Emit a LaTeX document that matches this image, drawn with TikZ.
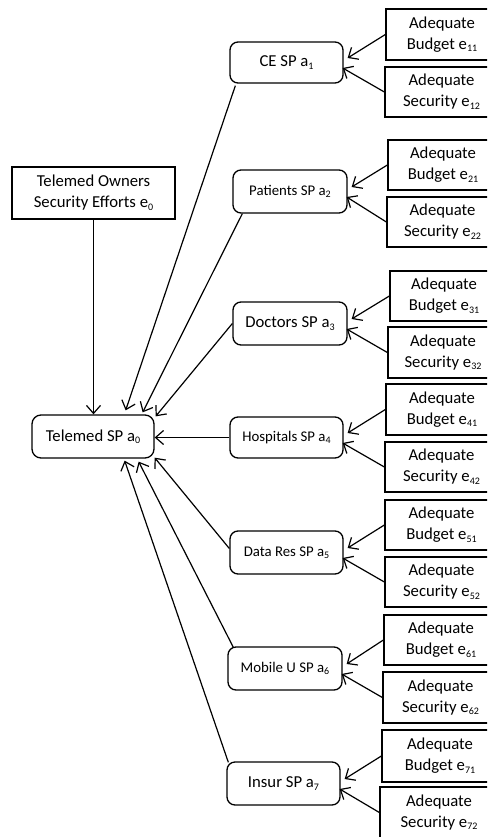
\documentclass[tikz,border=0pt]{standalone}
\usepackage{fontspec}
\setmainfont{Carlito}
\usetikzlibrary{arrows.meta,calc}

% small lowered index digits
\newcommand\sbs[1]{\raisebox{-0.3ex}{\fontsize{10}{10}\selectfont #1}}

\tikzset{
  base/.style={draw, line width=1.3pt, align=center, inner sep=0pt,
               font=\fontsize{16.7}{21}\selectfont},
  sqbox/.style={base},
  rbox/.style={base, rounded corners=8pt},
  small/.style={font=\fontsize{14.8}{18}\selectfont},
  arr/.style={line width=1.2pt, -{Straight Barb[length=8pt,width=14pt]}},
}

% effort box: name, left x, top y, bottom y, text (right edge runs off the page)
\newcommand\effbox[5]{%
  \node[sqbox, minimum width={(498-#2)*1pt}, minimum height={(#4-#3)*1pt}]
    (#1) at ({(#2+498)/2},{(#3+#4)/2}) {#5};}

\begin{document}
\begin{tikzpicture}[x=1pt, y=-1pt]
  \useasboundingbox (0,0) rectangle (487,837);
  \clip (0,0) rectangle (487,837);

  % owners and the central system
  \node[sqbox, minimum width=163pt, minimum height=52pt] (own) at (93.5,193)
    {Telemed Owners\\Security Efforts e\sbs{0}};
  \node[rbox, rounded corners=9pt, minimum width=122pt, minimum height=43pt] (a0) at (93,436.5)
    {Telemed SP a\sbs{0}};

  % stakeholder systems
  \node[rbox, minimum width=113pt, minimum height=41pt] (a1) at (286.5,62.5) {CE SP a\sbs{1}};
  \node[rbox, small, minimum width=114pt, minimum height=43pt] (a2) at (290,191.5) {Patients SP a\sbs{2}};
  \node[rbox, minimum width=114pt, minimum height=43pt] (a3) at (290,323.5) {Doctors SP a\sbs{3}};
  \node[rbox, small, minimum width=113pt, minimum height=41pt] (a4) at (286.5,437.5) {Hospitals SP a\sbs{4}};
  \node[rbox, small, minimum width=113pt, minimum height=43pt] (a5) at (286.5,552.5) {Data Res SP a\sbs{5}};
  \node[rbox, small, minimum width=114pt, minimum height=43pt] (a6) at (285,668.5) {Mobile U SP a\sbs{6}};
  \node[rbox, minimum width=113pt, minimum height=43pt] (a7) at (283.5,783.5) {Insur SP a\sbs{7}};

  % budget and security efforts
  \effbox{e11}{386}{9}{60}{Adequate\\Budget e\sbs{11}}
  \effbox{e12}{385}{67}{117}{Adequate\\Security e\sbs{12}}
  \effbox{e21}{388}{140}{190}{Adequate\\Budget e\sbs{21}}
  \effbox{e22}{387}{197}{247}{Adequate\\Security e\sbs{22}}
  \effbox{e31}{390}{271}{321}{Adequate\\Budget e\sbs{31}}
  \effbox{e32}{388}{327}{378}{Adequate\\Security e\sbs{32}}
  \effbox{e41}{386}{384}{435}{Adequate\\Budget e\sbs{41}}
  \effbox{e42}{385}{442}{492}{Adequate\\Security e\sbs{42}}
  \effbox{e51}{385}{500}{550}{Adequate\\Budget e\sbs{51}}
  \effbox{e52}{385}{557}{607}{Adequate\\Security e\sbs{52}}
  \effbox{e61}{384}{615}{665}{Adequate\\Budget e\sbs{61}}
  \effbox{e62}{383}{672}{723}{Adequate\\Security e\sbs{62}}
  \effbox{e71}{382}{730}{782}{Adequate\\Budget e\sbs{71}}
  \effbox{e72}{380}{787}{838}{Adequate\\Security e\sbs{72}}

  % efforts feed each stakeholder system
  \foreach \i in {1,...,7}{
    \draw[arr] (e\i1.west) -- ($(a\i.east)+(4,-4.5)$);
    \draw[arr] (e\i2.west) -- ($(a\i.east)+(-1,5.5)$);
  }

  % everything feeds the central system
  \draw[arr] (own.south) -- (own.south |- a0.north);
  \draw[arr] ($(a1.south west)+(6,2)$) -- ($(a0.north east)+(-29,-4)$);
  \draw[arr] ($(a2.south west)+(10,0)$) -- ($(a0.north east)+(-12,-2)$);
  \draw[arr] (a3.west) -- ($(a0.north east)+(1,2)$);
  \draw[arr] (a4.west) -- (a4.west -| a0.east);
  \draw[arr] ($(a5.west)+(0,-4)$) -- ($(a0.south east)+(0,-1)$);
  \draw[arr] ($(a6.north west)+(6,1)$) -- ($(a0.south east)+(-16,3)$);
  \draw[arr] ($(a7.north west)+(2,1)$) -- ($(a0.south east)+(-30,2)$);
\end{tikzpicture}
\end{document}
